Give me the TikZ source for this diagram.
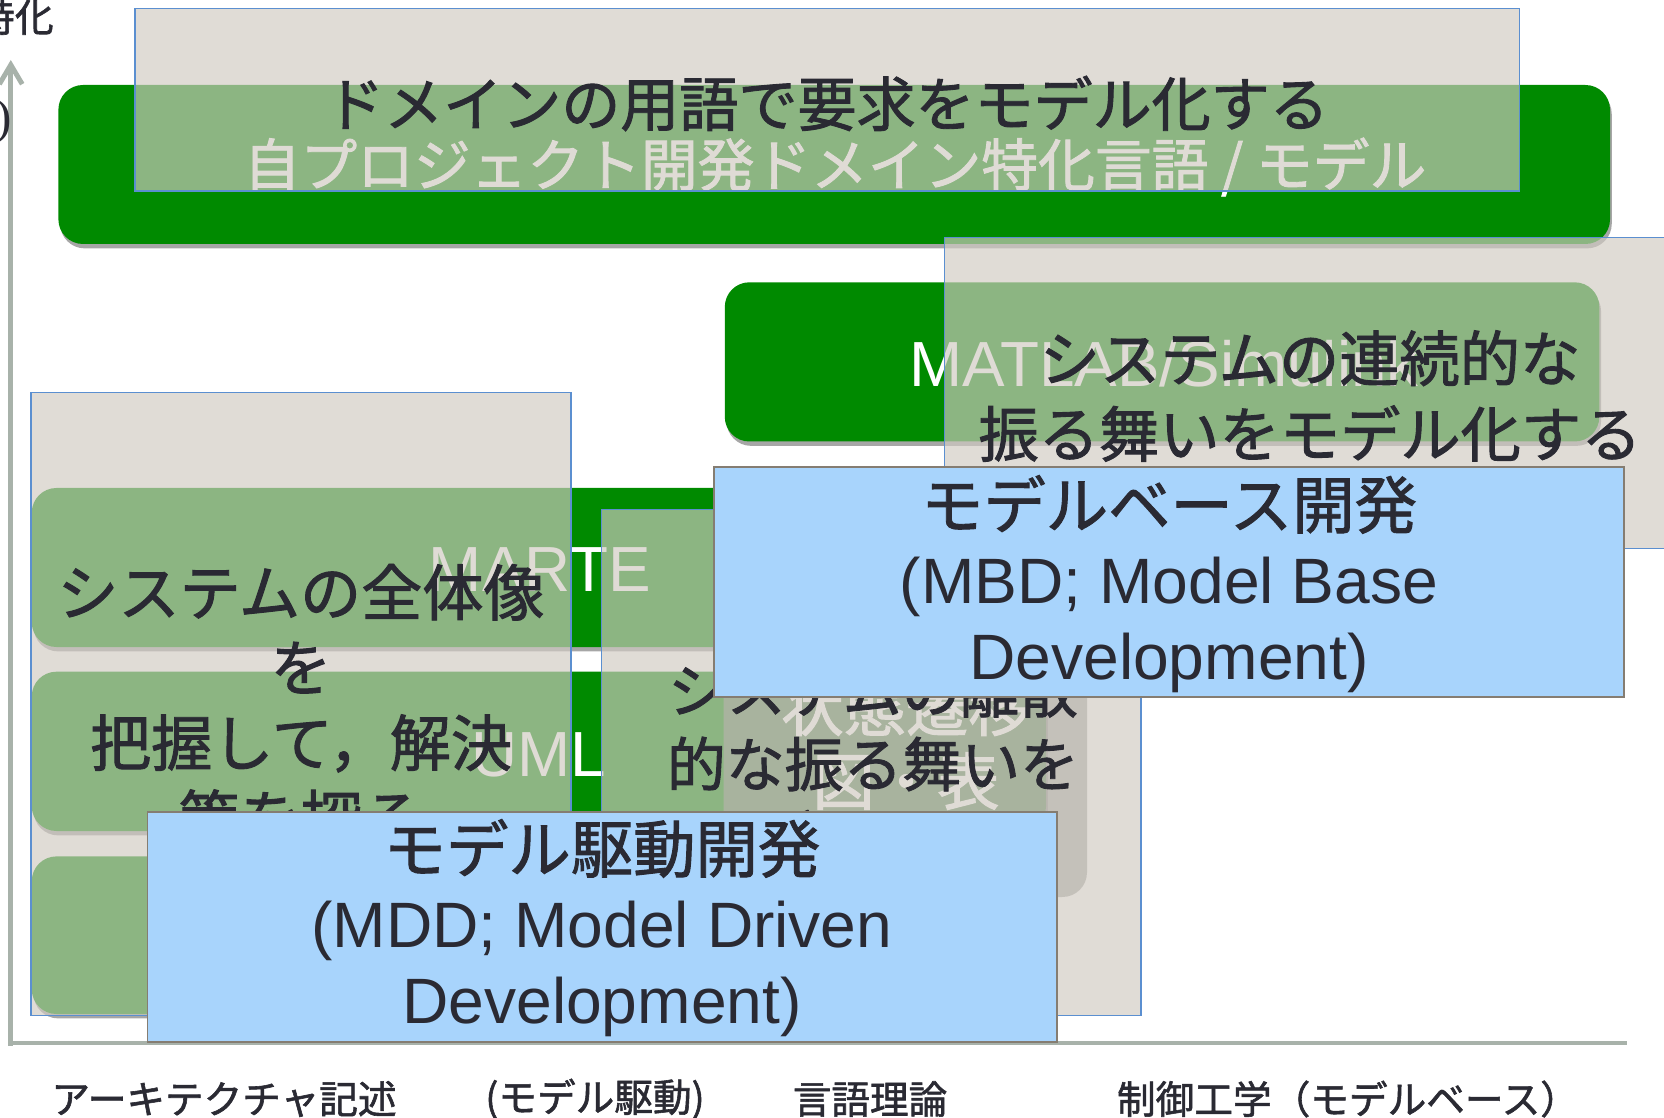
\documentclass[tikz,border=0pt]{standalone}
\usepackage{fontspec}
\setmainfont{Liberation Sans}
\newfontfamily\jpfont[FakeBold=1.5]{Noto Sans CJK JP}
\newfontfamily\serifont{Liberation Serif}
\usetikzlibrary{fit,shadows,arrows.meta}
\definecolor{dgreen}{RGB}{0,138,0}
\definecolor{beigec}{RGB}{209,203,194}
\definecolor{bordc}{RGB}{91,143,208}
\definecolor{lbluec}{RGB}{168,212,252}
\definecolor{bbordc}{RGB}{133,125,114}
\definecolor{inkc}{RGB}{42,42,51}
\definecolor{axisc}{RGB}{168,178,170}
\definecolor{grayc}{RGB}{130,130,130}
\begin{document}
\begin{tikzpicture}[x=0.02cm,y=-0.02cm,
  greenbox/.style={fill=dgreen, rounded corners=14pt, inner sep=0pt,
    drop shadow={shadow xshift=1pt, shadow yshift=-2.5pt, opacity=0.35, fill=black}},
  graybox/.style={fill=grayc, fill opacity=0.66, rounded corners=14pt, inner sep=0pt},
  beigebox/.style={fill=beigec, fill opacity=0.675, draw=bordc, line width=0.8pt, inner sep=0pt},
  bluebox/.style={fill=lbluec, draw=bbordc, line width=1.1pt, inner sep=0pt},
  wtext/.style={text=white, inner sep=0pt, align=center, font=\fontsize{36.3}{42}\selectfont},
  dtext/.style={text=inkc, inner sep=0pt, align=center},
  btext/.style={text=inkc, inner sep=0pt, align=center, font=\fontsize{36.5}{43}\selectfont},
  lab/.style={text=inkc, inner sep=0pt, font={\jpfont\fontsize{22}{26}\selectfont}},
  axisline/.style={draw=axisc, line width=2.8pt}
]
\useasboundingbox (0,0) rectangle (1664,1118);

% axes
\coordinate (ybot) at (10.8,1045.5);
\coordinate (ytop) at (10.8,60);
\coordinate (xleft) at (8.3,1043);
\coordinate (xright) at (1627,1043);
\draw[axisline, -{Straight Barb[length=11pt,width=13pt]}] (ybot) -- (ytop);
\draw[axisline] (xleft) -- (xright);

% green boxes
\node[greenbox, fit={(58.4,85) (1610,244)}] (dsl) {};
\node[greenbox, fit={(724.8,282.3) (1599.3,441.5)}] (matlab) {};
\node[greenbox, fit={(31.8,488) (1046,647)}] (marte) {};
\node[greenbox, fit={(31.8,671.7) (1046,831)}] (uml) {};
\node[greenbox, fit={(31.8,856.4) (1046,1014)}] (third) {};
\node[graybox, fit={(723.7,594) (1087,897)}] (stm) {};

% white texts
\node[wtext, font={\jpfont\fontsize{32.3}{38}\selectfont}] (tDSL) at (835,167) {自プロジェクト開発ドメイン特化言語 / モデル};
\node[wtext] (tMAT) at (1164,364) {MATLAB/Simulink};
\node[wtext] (tMARTE) at (540,570) {MARTE};
\node[wtext] (tUML) at (539,755) {UML};
\node[wtext, font={\jpfont\fontsize{35.5}{42}\selectfont}] (tSTM) at (906,744) {状態遷移\\図・表};

% beige overlays
\node[beigebox, fit={(134.8,8.5) (1519.6,191)}] (bTop) {};
\node[beigebox, fit={(944.5,237.7) (1676.7,548.6)}] (bRight) {};
\node[beigebox, fit={(30.8,392.6) (570.9,1015.6)}] (bLeft) {};
\node[beigebox, fit={(601.7,509.4) (1140.8,1015.6)}] (bMid) {};

% dark texts
\node[dtext, font={\jpfont\fontsize{33.6}{40}\selectfont}] (dTop) at (827,103.5) {ドメインの用語で要求をモデル化する};
\node[dtext, font={\jpfont\fontsize{34.3}{43}\selectfont}] (dRight) at (1310,396) {システムの連続的な\\振る舞いをモデル化する};
\node[dtext, font={\jpfont\fontsize{34.8}{42.8}\selectfont}] (dLeft) at (301,705) {システムの全体像\\を\\把握して，解決\\策を探る};
\node[dtext, font={\jpfont\fontsize{33.5}{42}\selectfont}] (dMid) at (873,764) {システムの離散\\的な振る舞いを\\モデル化する};

% blue boxes
\node[bluebox, fit={(714.2,467) (1623.6,697.2)}] (mbd) {};
\node[btext] (tMBD) at (1169,584) {{\jpfont\fontsize{35.5}{43}\selectfont モデルベース開発}\\(MBD; Model Base\\Development)};
\node[bluebox, fit={(147.5,811.8) (1057,1042)}] (mdd) {};
\node[btext] (tMDD) at (602,928) {{\jpfont\fontsize{35.5}{43}\selectfont モデル駆動開発}\\(MDD; Model Driven\\Development)};

% axis labels
\node[lab] (l1) at (224,1099) {アーキテクチャ記述};
\node[lab] (l2) at (595,1099) {(モデル駆動)};
\node[lab] (l3) at (870,1099) {言語理論};
\node[lab] (l4) at (1348,1099) {制御工学（モデルベース）};
\node[lab, anchor=east, font={\jpfont\fontsize{22}{26}\selectfont}] (ylab) at (54,17) {特化};
\node[anchor=east, text=inkc, inner sep=0pt, font={\serifont\fontsize{28}{30}\selectfont}] (ypar) at (12,122) {)};
\end{tikzpicture}
\end{document}
